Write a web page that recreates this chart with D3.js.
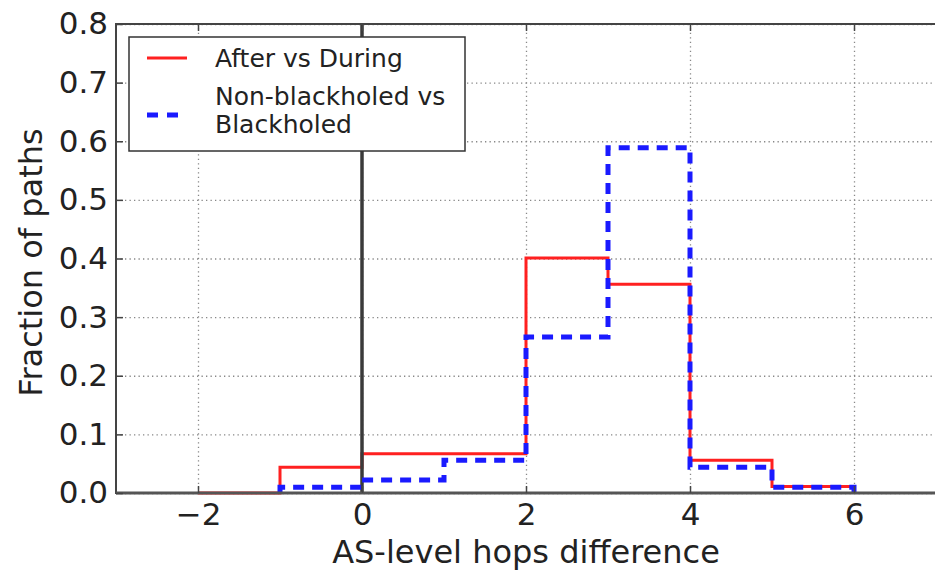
<!DOCTYPE html>
<html>
<head>
<meta charset="utf-8">
<script src="https://cdn.jsdelivr.net/npm/d3@7"></script>
<style>
    body { margin: 0; background: #fff; }
    svg { display: block; }
    text { font-family: "DejaVu Sans", sans-serif; fill: #222; }
</style>
</head>
<body>
<div class="chart"></div>
<script>
// bin edges + fraction for each bin (histtype step)
const afterEdges = [-2, -1, 0, 1, 2, 3, 4, 5, 6];
const afterValues = [0.0, 0.044, 0.067, 0.067, 0.401, 0.356, 0.056, 0.011];

const blackEdges = [-1, 0, 1, 2, 3, 4, 5, 6];
const blackValues = [0.010, 0.022, 0.056, 0.266, 0.589, 0.044, 0.010];

const xTicks = [-2, 0, 2, 4, 6];
const yTicks = [0, 0.1, 0.2, 0.3, 0.4, 0.5, 0.6, 0.7, 0.8];

const legendLabels = [["After vs During"], ["Non-blackholed vs", "Blackholed"]];

const width = 935, height = 571;
const plotL = 116, plotR = 936, plotT = 24, plotB = 493;

const svg = d3.select(".chart")
    .append("svg")
    .attr("width", width)
    .attr("height", height);

const x = d3.scaleLinear().domain([-3, 7]).range([plotL, plotR]);
const y = d3.scaleLinear().domain([0, 0.8]).range([plotB, plotT]);

// dotted grid
svg.append("g")
    .attr("transform", `translate(0,${plotB})`)
    .call(d3.axisBottom(x).tickValues(xTicks).tickSize(-(plotB - plotT)).tickFormat(""))
    .call(g => g.select(".domain").remove())
    .selectAll("line")
    .attr("stroke", "#888")
    .attr("stroke-width", 1.3)
    .attr("stroke-dasharray", "1.3,3.2");

svg.append("g")
    .attr("transform", `translate(${plotL},0)`)
    .call(d3.axisLeft(y).tickValues(yTicks).tickSize(-(plotR - plotL)).tickFormat(""))
    .call(g => g.select(".domain").remove())
    .selectAll("line")
    .attr("stroke", "#888")
    .attr("stroke-width", 1.3)
    .attr("stroke-dasharray", "1.3,3.2");

function stepPoints(edges, values) {
    const pts = [[edges[0], 0]];
    values.forEach((v, i) => {
        pts.push([edges[i], v]);
        pts.push([edges[i + 1], v]);
    });
    pts.push([edges[edges.length - 1], 0]);
    return pts;
}

const line = d3.line().x(d => x(d[0])).y(d => y(d[1]));

svg.append("path")
    .attr("d", line(stepPoints(afterEdges, afterValues)))
    .attr("fill", "none")
    .attr("stroke", "#ff2020")
    .attr("stroke-width", 3);

// zero line
svg.append("line")
    .attr("x1", x(0)).attr("x2", x(0))
    .attr("y1", plotT).attr("y2", plotB)
    .attr("stroke", "#3a3a3a")
    .attr("stroke-width", 3.5);

svg.append("path")
    .attr("d", line(stepPoints(blackEdges, blackValues)))
    .attr("fill", "none")
    .attr("stroke", "#1a1aff")
    .attr("stroke-width", 5)
    .attr("stroke-dasharray", "11,8");

// frame
svg.append("rect")
    .attr("x", plotL).attr("y", plotT)
    .attr("width", plotR - plotL).attr("height", plotB - plotT)
    .attr("fill", "none")
    .attr("stroke", "#444")
    .attr("stroke-width", 2);

svg.append("line")
    .attr("x1", plotL).attr("x2", plotR)
    .attr("y1", plotB).attr("y2", plotB)
    .attr("stroke", "#555")
    .attr("stroke-width", 3);

// axes, ticks pointing inwards
const yAxis = svg.append("g")
    .attr("transform", `translate(${plotL},0)`)
    .call(d3.axisLeft(y).tickValues(yTicks).tickSize(-7).tickPadding(8).tickFormat(d3.format(".1f")));
yAxis.select(".domain").remove();
yAxis.selectAll("line").attr("stroke", "#444").attr("stroke-width", 1.5);
yAxis.selectAll("text")
    .attr("font-size", "31px")
    .attr("fill", "#222");

const xAxis = svg.append("g")
    .attr("transform", `translate(0,${plotB})`)
    .call(d3.axisBottom(x).tickValues(xTicks).tickSize(-7).tickPadding(10).tickFormat(d => d < 0 ? "\u2212" + Math.abs(d) : d));
xAxis.select(".domain").remove();
xAxis.selectAll("line").attr("stroke", "#444").attr("stroke-width", 1.5);
xAxis.selectAll("text")
    .attr("font-size", "31px")
    .attr("fill", "#222");

// top ticks
svg.append("g")
    .attr("transform", `translate(0,${plotT})`)
    .call(d3.axisTop(x).tickValues(xTicks).tickSize(-7).tickFormat(""))
    .call(g => g.select(".domain").remove())
    .selectAll("line").attr("stroke", "#444").attr("stroke-width", 1.5);

svg.append("text")
    .attr("x", (plotL + plotR) / 2)
    .attr("y", 563)
    .attr("text-anchor", "middle")
    .attr("font-size", "32px")
    .text("AS-level hops difference");

svg.append("text")
    .attr("transform", `translate(42,${(plotT + plotB) / 2 + 4}) rotate(-90)`)
    .attr("text-anchor", "middle")
    .attr("font-size", "32px")
    .text("Fraction of paths");

// legend
const legend = svg.append("g");
legend.append("rect")
    .attr("x", 129).attr("y", 37)
    .attr("width", 336).attr("height", 114)
    .attr("fill", "#fff")
    .attr("stroke", "#333")
    .attr("stroke-width", 1.5);

legend.append("line")
    .attr("x1", 147).attr("x2", 187)
    .attr("y1", 58).attr("y2", 58)
    .attr("stroke", "#ff2020")
    .attr("stroke-width", 3);

legend.append("line")
    .attr("x1", 147).attr("x2", 179)
    .attr("y1", 115).attr("y2", 115)
    .attr("stroke", "#1a1aff")
    .attr("stroke-width", 5)
    .attr("stroke-dasharray", "11,9");

const legendY = [[66.5], [104.5, 133]];
legendLabels.forEach((lines, i) => {
    lines.forEach((t, j) => {
        legend.append("text")
            .attr("x", 215)
            .attr("y", legendY[i][j])
            .attr("font-size", "25px")
            .text(t);
    });
});
</script>
</body>
</html>
